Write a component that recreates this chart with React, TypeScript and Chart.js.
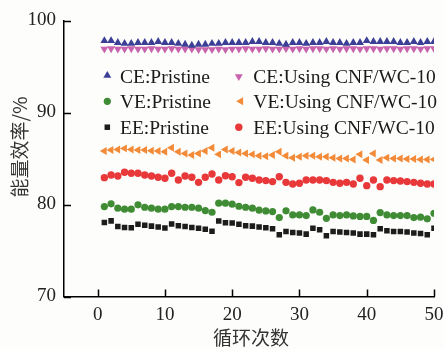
import React, { useEffect, useRef } from 'react';
import { Chart, registerables } from 'chart.js';

Chart.register(...registerables);

const cycles = [1,2,3,4,5,6,7,8,9,10,11,12,13,14,15,16,17,18,19,20,21,22,23,24,25,26,27,28,29,30,31,32,33,34,35,36,37,38,39,40,41,42,43,44,45,46,47,48,49,50];

const xTicks = [0, 10, 20, 30, 40, 50];
const yTicks = [70, 80, 90, 100];

const cePristine = [97.8,97.8,97.6,97.5,97.5,97.6,97.6,97.6,97.7,97.6,97.6,97.5,97.4,97.3,97.4,97.4,97.5,97.5,97.6,97.6,97.6,97.6,97.7,97.7,97.6,97.6,97.5,97.4,97.6,97.6,97.5,97.6,97.6,97.7,97.6,97.6,97.5,97.6,97.6,97.8,97.7,97.7,97.7,97.7,97.6,97.6,97.7,97.6,97.7,97.7];
const ceCnf = [96.9,96.95,96.9,96.9,96.95,96.9,96.9,96.95,96.9,96.9,96.95,96.9,96.9,96.9,96.85,96.85,96.85,96.9,96.85,96.9,96.9,96.95,96.9,96.9,96.95,96.9,96.9,96.95,96.9,96.95,96.9,96.95,96.95,96.9,96.95,96.9,96.95,96.95,96.9,96.95,96.95,96.9,96.95,96.95,96.9,96.95,96.95,96.9,96.95,96.95];
const vePristine = [79.77,80.07,79.6,79.49,79.49,79.96,79.7,79.6,79.49,79.49,79.77,79.77,79.7,79.7,79.6,79.34,79.16,80.14,80.14,80.03,79.81,79.7,79.6,79.38,79.3,79.23,78.58,79.31,78.87,78.87,78.8,79.41,79.16,78.5,78.87,78.8,78.87,78.76,78.7,78.7,78.27,79.12,78.87,78.8,78.8,78.8,78.58,78.62,78.44,79.05];
const veCnf = [85.81,85.92,85.99,86.1,85.99,85.92,85.92,85.84,85.81,85.73,86.17,85.73,85.55,85.37,85.55,85.81,86.17,85.45,85.99,85.81,85.66,85.55,85.45,85.3,85.25,85.37,85.73,85.3,85.08,85.19,85.3,85.3,85.19,85.19,85.08,85.01,85.01,84.9,85.45,84.83,85.55,84.83,85.08,85.01,85.01,84.94,84.94,84.9,84.9,84.9];
const eePristine = [78.04,78.22,77.62,77.5,77.48,77.86,77.75,77.65,77.55,77.45,77.88,77.7,77.6,77.5,77.42,77.3,77.1,78.2,78.02,77.98,77.85,77.7,77.65,77.55,77.48,77.36,76.71,77.07,76.96,76.89,76.78,77.43,77.25,76.6,77.07,77.0,76.96,76.89,76.78,76.78,76.71,77.36,77.14,77.07,77.07,77.0,76.89,76.86,76.71,77.43];
const eeCnf = [82.92,83.21,83.1,83.5,83.39,83.39,83.21,83.1,82.96,82.85,83.39,82.67,83.1,82.96,82.41,82.96,83.31,82.67,83.13,83.02,82.38,82.96,82.85,82.67,82.6,82.49,83.02,82.41,82.23,82.31,82.67,82.67,82.67,82.6,82.41,82.31,82.41,82.23,82.85,82.05,82.67,81.94,82.67,82.6,82.56,82.49,82.41,82.31,82.23,82.23];

const seriesLabels = ['CE:Pristine', 'CE:Using CNF/WC-10', 'VE:Pristine', 'VE:Using CNF/WC-10', 'EE:Pristine', 'EE:Using CNF/WC-10'];
const seriesValues = [cePristine, ceCnf, vePristine, veCnf, eePristine, eeCnf];
const seriesColors = ['#3c3f96', '#c863ad', '#3f8c35', '#f28a38', '#1c1c1c', '#e8383a'];
const seriesStyles = ['triangle', 'triangle', 'circle', 'triangle', 'rect', 'circle'];
const seriesRotations = [0, 180, 0, 270, 0, 0];
const seriesRadius = [4.6, 4.6, 3.6, 4.6, 3.9, 3.7];

const SERIF = '"Liberation Serif", "Times New Roman", serif';
const CJK = '"Noto Sans CJK SC", "Noto Sans", sans-serif';

function drawMarker(ctx: CanvasRenderingContext2D, style: string, x: number, y: number, r: number, rotDeg: number, color: string) {
  ctx.save();
  ctx.fillStyle = color;
  ctx.beginPath();
  if (style === 'circle') {
    ctx.arc(x, y, r, 0, Math.PI * 2);
  } else if (style === 'rect') {
    const s = Math.SQRT1_2 * r;
    ctx.rect(x - s, y - s, 2 * s, 2 * s);
  } else {
    let rad = (rotDeg * Math.PI) / 180;
    ctx.moveTo(x + Math.sin(rad) * r, y - Math.cos(rad) * r);
    rad += (2 * Math.PI) / 3;
    ctx.lineTo(x + Math.sin(rad) * r, y - Math.cos(rad) * r);
    rad += (2 * Math.PI) / 3;
    ctx.lineTo(x + Math.sin(rad) * r, y - Math.cos(rad) * r);
    ctx.closePath();
  }
  ctx.fill();
  ctx.restore();
}

const decorPlugin = {
  id: 'decor',
  beforeDraw(chart: any) {
    const ctx = chart.ctx;
    ctx.save();
    ctx.fillStyle = '#fdfdfb';
    ctx.fillRect(0, 0, chart.width, chart.height);
    ctx.restore();
  },
  afterDraw(chart: any) {
    const ctx: CanvasRenderingContext2D = chart.ctx;
    const xs = chart.scales.x;
    const ys = chart.scales.y;
    const area = chart.chartArea;
    ctx.save();
    ctx.strokeStyle = '#000';
    ctx.lineWidth = 1.5;
    ctx.beginPath();
    yTicks.forEach((v) => {
      const py = Math.round(ys.getPixelForValue(v)) + 0.5;
      ctx.moveTo(area.left, py);
      ctx.lineTo(area.left + 7, py);
    });
    xTicks.forEach((v) => {
      const px = Math.round(xs.getPixelForValue(v)) + 0.5;
      ctx.moveTo(px, area.bottom);
      ctx.lineTo(px, area.bottom - 7);
    });
    ctx.stroke();

    // axis titles
    ctx.fillStyle = '#333';
    ctx.font = `19px ${CJK}`;
    ctx.textAlign = 'center';
    ctx.textBaseline = 'middle';
    ctx.fillText('循环次数', 251, 338);
    ctx.save();
    ctx.translate(20, 147);
    ctx.rotate(-Math.PI / 2);
    ctx.fillText('能量效率/%', 0, 0);
    ctx.restore();

    // legend
    const colMarkerX = [107.3, 238.8];
    const colTextX = [120, 253.3];
    const rowY = [76.5, 101.3, 127.2];
    ctx.font = `19.5px ${SERIF}`;
    ctx.textAlign = 'left';
    ctx.textBaseline = 'alphabetic';
    seriesLabels.forEach((label, i) => {
      const col = i % 2;
      const row = Math.floor(i / 2);
      let mx = colMarkerX[col];
      let my = rowY[row];
      if (seriesStyles[i] === 'triangle' && seriesRotations[i] === 0) my -= 1;
      if (seriesRotations[i] === 270) mx += 2;
      drawMarker(ctx, seriesStyles[i], mx, my, seriesRadius[i], seriesRotations[i], seriesColors[i]);
      ctx.fillStyle = '#1a1a1a';
      ctx.fillText(label, colTextX[col], rowY[row] + 6.6);
    });
    ctx.restore();
  },
};

export default function App() {
  const ref = useRef<HTMLCanvasElement | null>(null);
  useEffect(() => {
    if (!ref.current) return;
    const datasets = seriesLabels.map((label, i) => ({
      label,
      data: cycles.map((c, j) => ({ x: c, y: seriesValues[i][j] })),
      pointStyle: seriesStyles[i] as any,
      rotation: seriesRotations[i],
      pointRadius: seriesRadius[i],
      pointHoverRadius: seriesRadius[i],
      backgroundColor: seriesColors[i],
      borderColor: seriesColors[i],
      borderWidth: 0,
      showLine: false,
    }));
    const chart = new Chart(ref.current, {
      type: 'scatter',
      data: { datasets },
      plugins: [decorPlugin],
      options: {
        animation: false,
        responsive: false,
        devicePixelRatio: 1,
        layout: { padding: { top: 20.5, right: 10, left: 0, bottom: 0 } },
        plugins: { legend: { display: false }, tooltip: { enabled: false } },
        scales: {
          x: {
            type: 'linear',
            min: -5,
            max: 50,
            afterBuildTicks: (s: any) => { s.ticks = xTicks.map((v) => ({ value: v })); },
            afterFit: (s: any) => { s.height = 52.5; s.paddingLeft = 0; s.paddingRight = 0; },
            grid: { display: false, drawTicks: false },
            border: { display: true, color: '#000', width: 1.5 },
            ticks: { color: '#222', font: { family: SERIF, size: 19 }, padding: 7, maxRotation: 0, autoSkip: false },
          },
          y: {
            type: 'linear',
            min: 70,
            max: 100,
            afterBuildTicks: (s: any) => { s.ticks = yTicks.map((v) => ({ value: v })); },
            afterFit: (s: any) => { s.width = 64; s.paddingTop = 0; s.paddingBottom = 0; },
            grid: { display: false, drawTicks: false },
            border: { display: true, color: '#000', width: 1.5 },
            ticks: { color: '#222', font: { family: SERIF, size: 19 }, padding: 8 },
          },
        },
      },
    });
    return () => chart.destroy();
  }, []);
  return (
    <div style={{ position: 'absolute', left: 0, top: 0, width: 444, height: 349 }}>
      <canvas ref={ref} width={444} height={349} style={{ width: 444, height: 349 }} />
    </div>
  );
}
